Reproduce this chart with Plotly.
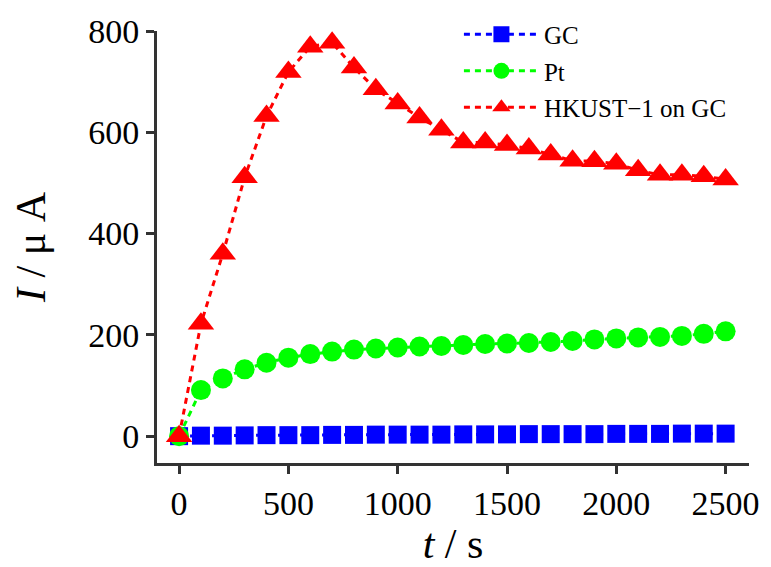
import plotly.graph_objects as go

t_s = [0, 100, 200, 300, 400, 500, 600, 700, 800, 900, 1000, 1100, 1200,
       1300, 1400, 1500, 1600, 1700, 1800, 1900, 2000, 2100, 2200, 2300, 2400, 2500]

gc_uA = [0, 1, 1, 1.5, 2, 2, 2, 2.5, 2.5, 3, 3, 3, 3, 3.5, 3.5, 3.5, 4, 4, 4, 4,
         4.5, 4.5, 4.5, 5, 5, 5]

pt_uA = [0, 91, 114, 132, 145, 155, 162, 167, 171, 173, 175, 177, 178, 180, 182,
         183, 184, 186, 188, 191, 193, 195, 196, 198, 202, 207]

hkust_uA = [0, 222, 360, 511, 632, 719, 769, 777, 728, 685, 657, 629, 605, 580,
            580, 575, 568, 556, 544, 543, 538, 525, 516, 516, 513, 507]

series_names = ["GC", "Pt", "HKUST\u22121 on GC"]
x_ticks = [0, 500, 1000, 1500, 2000, 2500]
y_ticks = [0, 200, 400, 600, 800]

FONT = "Liberation Serif"

fig = go.Figure()
fig.add_trace(go.Scatter(
    x=t_s, y=gc_uA, name=series_names[0], mode="lines+markers", legendgroup="a",
    line=dict(color="#0000FF", width=3, dash="6px,5px"),
    marker=dict(symbol="square", size=18, color="#0000FF")))
fig.add_trace(go.Scatter(
    x=t_s, y=pt_uA, name=series_names[1], mode="lines+markers", legendgroup="b",
    line=dict(color="#00FF00", width=3, dash="6px,5px"),
    marker=dict(symbol="circle", size=20, color="#00FF00")))
fig.add_trace(go.Scatter(
    x=t_s, y=hkust_uA, name=series_names[2], mode="lines+markers", legendgroup="c",
    line=dict(color="#FF0000", width=3, dash="6px,5px"),
    marker=dict(symbol="triangle-up", size=23, color="#FF0000")))

axis_common = dict(
    showline=True, linecolor="#333333", linewidth=3,
    ticks="outside", ticklen=8, tickwidth=3, tickcolor="#333333",
    showgrid=False, zeroline=False,
    tickfont=dict(family=FONT, size=34, color="black"),
)

fig.update_layout(
    width=771, height=567,
    margin=dict(l=157, r=19, t=29, b=95),
    paper_bgcolor="white", plot_bgcolor="white",
    font=dict(family=FONT, color="black"),
    xaxis=dict(range=[-101, 2607], tickvals=x_ticks,
               title=dict(text="<i>t</i> / s", font=dict(family=FONT, size=42), standoff=4),
               **axis_common),
    yaxis=dict(range=[-53, 800], tickvals=y_ticks,
               title=dict(text="<i>I</i> / \u03bc A", font=dict(family=FONT, size=42), standoff=30),
               **axis_common),
    legend=dict(x=0.51, y=1.045, xanchor="left", yanchor="top",
                font=dict(family=FONT, size=25, color="black"),
                bgcolor="rgba(0,0,0,0)", itemsizing="trace",
                itemwidth=75, tracegroupgap=1),
    showlegend=True,
)

fig.write_html("out.html")
